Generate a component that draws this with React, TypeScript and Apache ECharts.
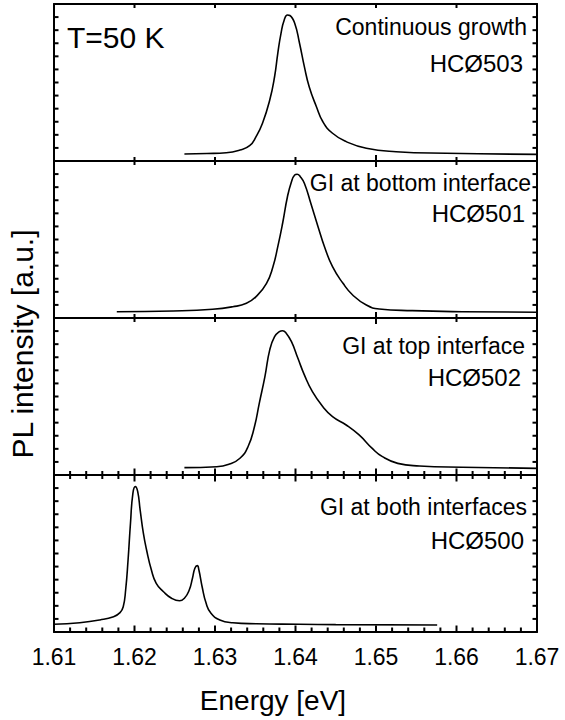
import React, { useEffect, useRef } from 'react';
import * as echarts from 'echarts';

// ---- Data ----
const energy503 = [1.6262, 1.6290, 1.6314, 1.6331, 1.6343, 1.6351, 1.6359, 1.6368, 1.6374, 1.6378, 1.6382, 1.6386, 1.6390, 1.6393, 1.6399, 1.6405, 1.6411, 1.6417, 1.6426, 1.6434, 1.6446, 1.6463, 1.6488, 1.6525, 1.6587, 1.6700];
const intensity503 = [0.54, 0.57, 0.63, 0.84, 1.17, 1.86, 2.88, 4.66, 6.44, 8.23, 9.76, 10.78, 11.16, 11.12, 10.53, 9.0, 7.21, 5.68, 4.15, 3.0, 2.12, 1.48, 0.97, 0.71, 0.59, 0.51];

const energy501 = [1.6178, 1.6248, 1.6297, 1.6322, 1.6339, 1.6351, 1.6364, 1.6372, 1.6378, 1.6384, 1.6390, 1.6395, 1.6399, 1.6402, 1.6406, 1.6411, 1.6419, 1.6428, 1.6436, 1.6446, 1.6459, 1.6471, 1.6488, 1.6504, 1.6545, 1.6607, 1.6700];
const intensity501 = [0.48, 0.54, 0.67, 0.86, 1.12, 1.63, 2.65, 3.92, 5.45, 7.24, 9.27, 10.42, 10.93, 10.99, 10.8, 10.30, 8.77, 6.98, 5.45, 3.92, 2.65, 1.76, 0.99, 0.69, 0.56, 0.48, 0.44];

const energy502 = [1.6262, 1.6302, 1.6318, 1.6331, 1.6341, 1.6349, 1.6355, 1.6362, 1.6368, 1.6374, 1.6380, 1.6384, 1.6388, 1.6395, 1.6403, 1.6411, 1.6421, 1.6434, 1.6446, 1.6463, 1.6479, 1.6495, 1.6508, 1.6527, 1.6554, 1.6607, 1.6700];
const intensity502 = [0.56, 0.63, 0.84, 1.28, 2.16, 3.69, 5.48, 7.52, 9.56, 10.57, 10.96, 11.03, 10.88, 10.19, 8.92, 7.65, 6.37, 5.22, 4.46, 3.82, 3.06, 2.05, 1.40, 0.89, 0.69, 0.59, 0.51];

const energy500 = [1.6100, 1.6132, 1.6157, 1.6174, 1.6182, 1.6186, 1.6189, 1.6192, 1.6195, 1.6198, 1.6201, 1.6204, 1.6207, 1.6211, 1.6215, 1.6221, 1.6227, 1.6236, 1.6246, 1.6256, 1.6262, 1.6268, 1.6272, 1.6275, 1.6278, 1.6280, 1.6284, 1.6289, 1.6295, 1.6306, 1.6322, 1.6351, 1.6405, 1.6450, 1.6576];
const intensity500 = [0.59, 0.71, 0.92, 1.17, 1.48, 1.93, 3.21, 5.50, 8.31, 10.60, 11.11, 10.73, 9.33, 7.55, 6.27, 4.74, 3.72, 3.08, 2.58, 2.39, 2.58, 3.21, 4.11, 4.87, 5.07, 4.74, 3.46, 2.19, 1.43, 0.92, 0.71, 0.63, 0.59, 0.56, 0.54];

const sampleLabels = ['Continuous growth', 'GI at bottom interface', 'GI at top interface', 'GI at both interfaces'];
const sampleIds = ['HCØ503', 'HCØ501', 'HCØ502', 'HCØ500'];
const panelEnergies = [energy503, energy501, energy502, energy500];
const panelIntensities = [intensity503, intensity501, intensity502, intensity500];

// axis ticks
const xMajorTicks = [1.61, 1.62, 1.63, 1.64, 1.65, 1.66, 1.67];
const xMinorPerMajor = 5;
const yTickValues = [0, 1, 2, 3, 4, 5, 6, 7, 8, 9, 10, 11, 12];
const xMin = 1.61;
const xMax = 1.67;
const xStep = 0.01;
const yMin = 0;
const yMax = 12;

const temperatureLabel = 'T=50 K';
const xTitle = 'Energy [eV]';
const yTitle = 'PL intensity [a.u.]';

const FONT = '"Liberation Sans", Arial, Helvetica, sans-serif';

export default function App() {
  const ref = useRef<HTMLDivElement>(null);

  useEffect(() => {
    const chart = echarts.init(ref.current!, null, { renderer: 'svg' });
    const L = 54;
    const R = 28;
    const T = 4;
    const H = 157;
    const black = '#000';
    const lineStyle = { color: black, width: 2 };

    // tick values: majors plus minors between them
    const xTickData: number[][] = [];
    xMajorTicks.forEach((v, k) => {
      xTickData.push([v, 1]);
      if (k < xMajorTicks.length - 1) {
        const next = xMajorTicks[k + 1];
        for (let m = 1; m < xMinorPerMajor; m++) {
          xTickData.push([+(v + (m * (next - v)) / xMinorPerMajor).toFixed(4), 0]);
        }
      }
    });
    const yTickData = yTickValues.map((v) => [xMin, v]);

    const grids: any[] = [];
    const xAxes: any[] = [];
    const yAxes: any[] = [];
    const series: any[] = [];

    for (let i = 0; i < 4; i++) {
      grids.push({ left: L, right: R, top: T + i * H, height: H });

      const bottomIdx = xAxes.length;
      xAxes.push({
        type: 'value', gridIndex: i, position: 'bottom', min: xMin, max: xMax, interval: xStep,
        axisLine: { show: true, onZero: false, lineStyle },
        axisTick: { show: false },
        axisLabel: {
          show: i === 3, color: black, fontSize: 23, fontFamily: FONT, margin: 13,
          formatter: (v: number) => v.toFixed(2),
        },
        splitLine: { show: false },
      });
      xAxes.push({
        type: 'value', gridIndex: i, position: 'top', min: xMin, max: xMax, interval: xStep,
        axisLine: { show: true, onZero: false, lineStyle },
        axisTick: { show: false },
        axisLabel: { show: false },
        splitLine: { show: false },
      });

      const leftIdx = yAxes.length;
      yAxes.push({
        type: 'value', gridIndex: i, position: 'left', min: yMin, max: yMax, interval: 1,
        axisLine: { show: true, onZero: false, lineStyle },
        axisTick: { show: false },
        axisLabel: { show: false },
        splitLine: { show: false },
      });
      yAxes.push({
        type: 'value', gridIndex: i, position: 'right', min: yMin, max: yMax, interval: 1,
        axisLine: { show: true, onZero: false, lineStyle },
        axisTick: { show: false },
        axisLabel: { show: false },
        splitLine: { show: false },
      });

      const data = panelEnergies[i].map((e, k) => [e, panelIntensities[i][k]]);
      series.push({
        type: 'line', xAxisIndex: bottomIdx, yAxisIndex: leftIdx, data,
        showSymbol: false, symbol: 'none', smooth: 0.5,
        lineStyle: { color: black, width: 1.6 },
        silent: true, z: 3,
      });

      // tick lengths for this panel (bottom edge / top edge)
      const botMajor = i >= 2 ? 6.5 : 4;
      const botMajorEmph = i >= 2 ? 6.5 : 6;
      const botMinor = i === 3 ? 4.5 : i === 2 ? 4 : 0;
      const topMajor = i === 3 ? 6.5 : 4;
      const topMajorEmph = i === 3 ? 6.5 : i === 0 ? 4 : 6;
      const topMinor = i === 3 ? 4 : 0;

      series.push({
        type: 'custom', xAxisIndex: bottomIdx, yAxisIndex: leftIdx, data: xTickData,
        clip: false, silent: true, z: 4,
        renderItem: (_p: any, api: any) => {
          const v = api.value(0);
          const major = api.value(1) === 1;
          const emph = Math.abs(v - 1.65) < 1e-6;
          const b = api.coord([v, yMin]);
          const t = api.coord([v, yMax]);
          const lb = major ? (emph ? botMajorEmph : botMajor) : botMinor;
          const lt = major ? (emph ? topMajorEmph : topMajor) : topMinor;
          const children: any[] = [];
          if (lb > 0) children.push({ type: 'line', shape: { x1: b[0], y1: b[1], x2: b[0], y2: b[1] - lb }, style: { stroke: black, lineWidth: 2 } });
          if (lt > 0) children.push({ type: 'line', shape: { x1: t[0], y1: t[1], x2: t[0], y2: t[1] + lt }, style: { stroke: black, lineWidth: 2 } });
          return { type: 'group', children };
        },
      });
      series.push({
        type: 'custom', xAxisIndex: bottomIdx, yAxisIndex: leftIdx, data: yTickData,
        clip: false, silent: true, z: 4,
        renderItem: (_p: any, api: any) => {
          const v = api.value(1);
          const l = api.coord([xMin, v]);
          const r = api.coord([xMax, v]);
          return {
            type: 'group',
            children: [
              { type: 'line', shape: { x1: l[0], y1: l[1], x2: l[0] + 4.5, y2: l[1] }, style: { stroke: black, lineWidth: 2 } },
              { type: 'line', shape: { x1: r[0], y1: r[1], x2: r[0] - 4.5, y2: r[1] }, style: { stroke: black, lineWidth: 2 } },
            ],
          };
        },
      });
    }

    const textPos = [
      [[527, 27], [523, 63]],
      [[531, 183], [525, 213]],
      [[525, 346], [521, 377]],
      [[527, 507], [524, 540]],
    ];

    const graphic: any[] = [];
    for (let i = 0; i < 4; i++) {
      graphic.push({
        type: 'text', x: textPos[i][0][0], y: textPos[i][0][1],
        style: { text: sampleLabels[i], fill: black, font: `23px ${FONT}`, textAlign: 'right', textVerticalAlign: 'middle', verticalAlign: 'middle' },
      });
      graphic.push({
        type: 'text', x: textPos[i][1][0], y: textPos[i][1][1],
        style: { text: sampleIds[i], fill: black, font: `24px ${FONT}`, textAlign: 'right', textVerticalAlign: 'middle', verticalAlign: 'middle' },
      });
    }
    graphic.push({
      type: 'text', x: 67, y: 37,
      style: { text: temperatureLabel, fill: black, font: `30px ${FONT}`, textAlign: 'left', textVerticalAlign: 'middle', verticalAlign: 'middle' },
    });
    graphic.push({
      type: 'text', x: 273, y: 700,
      style: { text: xTitle, fill: black, font: `28px ${FONT}`, textAlign: 'center', textVerticalAlign: 'middle', verticalAlign: 'middle' },
    });
    graphic.push({
      type: 'text', x: 22, y: 344, rotation: Math.PI / 2,
      style: { text: yTitle, fill: black, font: `30px ${FONT}`, textAlign: 'center', textVerticalAlign: 'middle', verticalAlign: 'middle' },
    });

    chart.setOption({
      animation: false,
      backgroundColor: '#fff',
      grid: grids,
      xAxis: xAxes,
      yAxis: yAxes,
      series,
      graphic,
    });

    return () => chart.dispose();
  }, []);

  return <div ref={ref} style={{ position: 'absolute', left: 0, top: 0, width: 565, height: 720 }} />;
}
